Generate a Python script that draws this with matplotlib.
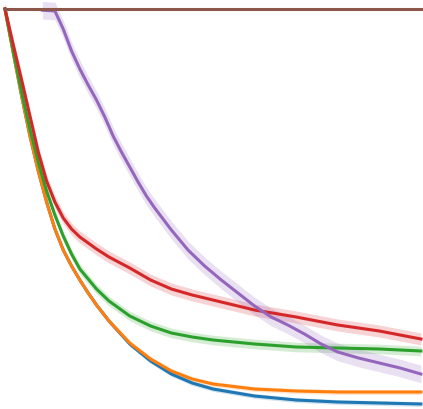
import matplotlib

matplotlib.use("Agg")
import matplotlib.pyplot as plt
import numpy as np

# shared x grid for the fast-decaying curves (epochs, 0-100)
steps = [0, 2, 4, 6, 8, 10, 12, 14, 16, 18, 20, 22, 25, 30, 35, 40, 45, 50, 60, 70, 80, 90, 100]

blue_loss = [1.0, 0.89, 0.7825, 0.6825, 0.595, 0.5175, 0.45, 0.3975, 0.3575, 0.3225, 0.29,
             0.26, 0.22, 0.1625, 0.12, 0.0875, 0.065, 0.05, 0.0325, 0.0225, 0.0175, 0.015, 0.0125]
orange_loss = [1.0, 0.89, 0.7825, 0.6825, 0.595, 0.5175, 0.45, 0.3975, 0.3575, 0.3225, 0.29,
               0.26, 0.22, 0.165, 0.125, 0.095, 0.075, 0.0625, 0.05, 0.045, 0.0425, 0.0425, 0.0425]
green_loss = [1.0, 0.895, 0.7925, 0.7, 0.6175, 0.545, 0.485, 0.4325, 0.3875, 0.35, 0.325,
              0.3, 0.27, 0.2325, 0.2075, 0.19, 0.18, 0.1725, 0.1625, 0.155, 0.1525, 0.15, 0.145]
red_loss = [1.0, 0.91, 0.8225, 0.7325, 0.6425, 0.57, 0.5175, 0.4775, 0.45, 0.43, 0.415,
            0.4, 0.38, 0.3525, 0.3225, 0.3, 0.285, 0.2725, 0.2475, 0.23, 0.21, 0.195, 0.175]

purple_steps = [9, 12, 14, 16, 18, 20, 22, 24, 26, 28, 30, 32, 34, 36, 38, 40, 44, 48,
                52, 56, 60, 64, 68, 72, 76, 80, 85, 90, 95, 100]
purple_loss = [0.997, 0.995, 0.95, 0.895, 0.85, 0.81, 0.7725, 0.73, 0.6825,
               0.6425, 0.605, 0.5675, 0.5325, 0.5025, 0.475, 0.4475, 0.3975, 0.3575,
               0.3225, 0.29, 0.2575, 0.23, 0.21, 0.1875, 0.1625, 0.1425, 0.1275,
               0.115, 0.1025, 0.0875]

brown_steps = [0, 100]
brown_loss = [1.0, 1.0]

series = [
    ("C0", steps, blue_loss, 0.006),
    ("C1", steps, orange_loss, 0.006),
    ("C2", steps, green_loss, 0.012),
    ("C3", steps, red_loss, 0.015),
    ("C4", purple_steps, purple_loss, 0.022),
    ("C5", brown_steps, brown_loss, 0.0),
]

fig = plt.figure(figsize=(4.23, 4.10), dpi=100)
ax = fig.add_axes([0, 0, 1, 1])
for color, x, y, band in series:
    x = np.asarray(x, dtype=float)
    y = np.asarray(y, dtype=float)
    if band > 0:
        ax.fill_between(x, y - band, y + band, color=color, alpha=0.2, linewidth=0)
    ax.plot(x, y, color=color, linewidth=2.2)

ax.set_xlim(-1.2, 100.5)
ax.set_ylim(0, 1.025)
ax.axis("off")
fig.savefig("out.png", dpi=100, facecolor="white")
